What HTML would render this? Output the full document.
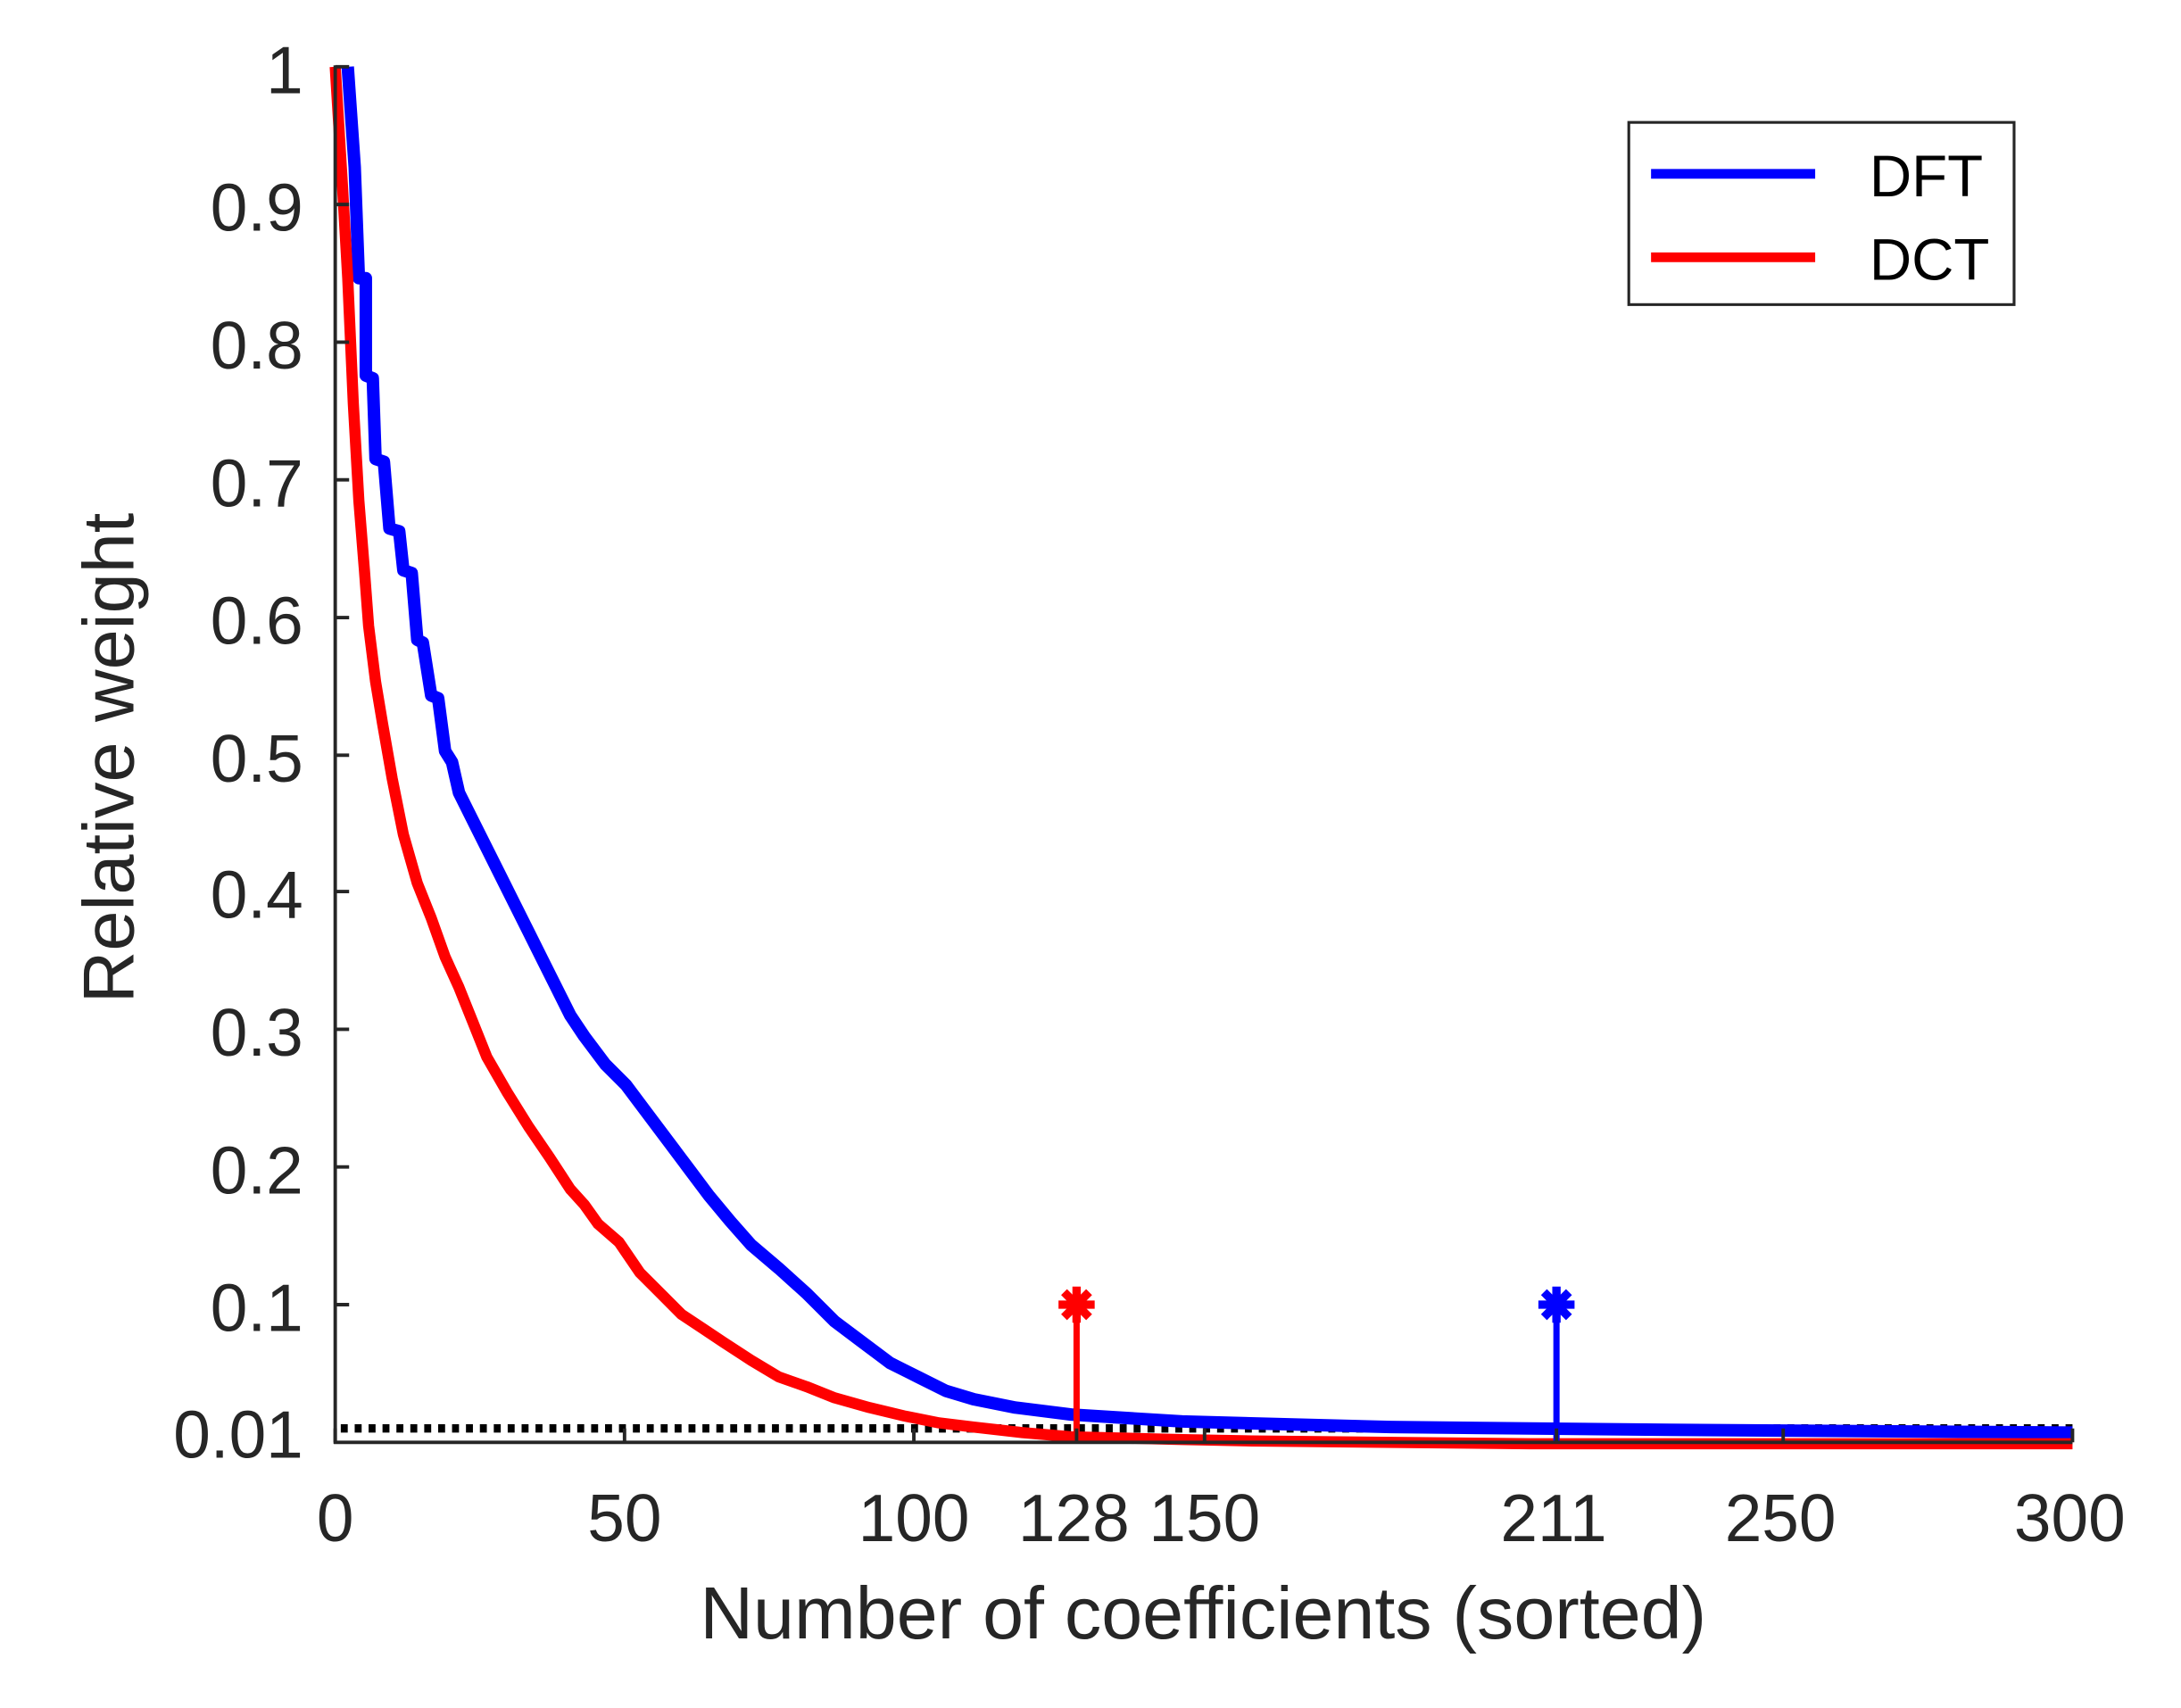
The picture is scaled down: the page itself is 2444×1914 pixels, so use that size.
<!DOCTYPE html>
<html><head><meta charset="utf-8"><style>body{margin:0;background:#fff}svg{display:block}</style></head><body>
<svg width="2444" height="1914" viewBox="0 0 1568 1228" preserveAspectRatio="none" xmlns="http://www.w3.org/2000/svg" font-family="Liberation Sans, Arial, sans-serif" fill="#262626">
<rect width="1568" height="1228" fill="#fff"/>
<line x1="245" y1="1027" x2="1490" y2="1027" stroke="#000" stroke-width="6" stroke-dasharray="5 5"/>
<polyline fill="none" stroke="#0000ff" stroke-width="9" stroke-linejoin="round" points="250,48 255,120 258,200 263,200 263,270 268,272 270,330 276,332 280,380 287,382 290,410 296,412 300,460 304,462 310,500 315,502 320,540 325,548 330,570 340,590 350,610 360,630 370,650 380,670 390,690 400,710 410,730 420,745 435,765 450,780 465,800 480,820 495,840 510,860 525,878 540,895 560,912 580,930 600,950 620,965 640,980 660,990 680,1000 700,1006 730,1012 770,1017 850,1022 1000,1026 1200,1028 1490,1030"/>
<polyline fill="none" stroke="#ff0000" stroke-width="8" stroke-linejoin="round" points="241,48 246,130 250,200 254,290 258,360 262,410 265,450 270,490 275,520 282,560 290,600 300,635 310,660 320,688 330,710 340,735 350,760 365,786 380,810 395,832 410,855 420,866 430,880 445,893 460,915 475,930 490,945 505,955 520,965 540,978 560,990 580,997 600,1005 625,1012 650,1018 675,1023 700,1026 735,1030 770,1033 850,1035 900,1036 1100,1038 1490,1038"/>
<line x1="774" y1="938" x2="774" y2="1037" stroke="#ff0000" stroke-width="4.5"/>
<line x1="1119" y1="938" x2="1119" y2="1037" stroke="#0000ff" stroke-width="4.5"/>
<g stroke="#ff0000" stroke-width="6"><line x1="774" y1="925" x2="774" y2="951"/><line x1="761" y1="938" x2="787" y2="938"/><line x1="765" y1="929" x2="783" y2="947"/><line x1="765" y1="947" x2="783" y2="929"/></g>
<g stroke="#0000ff" stroke-width="6"><line x1="1119" y1="925" x2="1119" y2="951"/><line x1="1106" y1="938" x2="1132" y2="938"/><line x1="1110" y1="929" x2="1128" y2="947"/><line x1="1110" y1="947" x2="1128" y2="929"/></g>
<g stroke="#262626" stroke-width="2.5" fill="none">
<line x1="241" y1="47" x2="241" y2="1038"/><line x1="240" y1="1037" x2="1490" y2="1037"/>
<path d="M241 48h10M241 147h10M241 246h10M241 345h10M241 444h10M241 543h10M241 641h10M241 740h10M241 839h10M241 938h10"/>
<path d="M241 1037v-10M449 1037v-10M657 1037v-10M774 1037v-10M866 1037v-10M1119 1037v-10M1282 1037v-10M1490 1037v-10"/>
</g>
<g font-size="48" text-anchor="end">
<text x="218" y="67">1</text><text x="218" y="166">0.9</text><text x="218" y="265">0.8</text><text x="218" y="364">0.7</text><text x="218" y="463">0.6</text><text x="218" y="562">0.5</text><text x="218" y="660">0.4</text><text x="218" y="759">0.3</text><text x="218" y="858">0.2</text><text x="218" y="957">0.1</text><text x="218" y="1048">0.01</text>
</g>
<g font-size="48" text-anchor="middle">
<text x="241" y="1108">0</text><text x="449" y="1108">50</text><text x="657" y="1108">100</text><text x="772" y="1108">128</text><text x="866" y="1108">150</text><text x="1117" y="1108">211</text><text x="1280" y="1108">250</text><text x="1488" y="1108">300</text>
</g>
<text x="865" y="1178" font-size="53" text-anchor="middle">Number of coefficients (sorted)</text>
<text transform="translate(96,545) rotate(-90)" font-size="52" text-anchor="middle">Relative weight</text>
<rect x="1171" y="88" width="277" height="131" fill="#fff" stroke="#262626" stroke-width="2"/>
<line x1="1187" y1="125" x2="1305" y2="125" stroke="#0000ff" stroke-width="7"/>
<line x1="1187" y1="185" x2="1305" y2="185" stroke="#ff0000" stroke-width="7"/>
<g font-size="42" fill="#000"><text x="1344" y="141">DFT</text><text x="1344" y="201">DCT</text></g>
</svg>
</body></html>
